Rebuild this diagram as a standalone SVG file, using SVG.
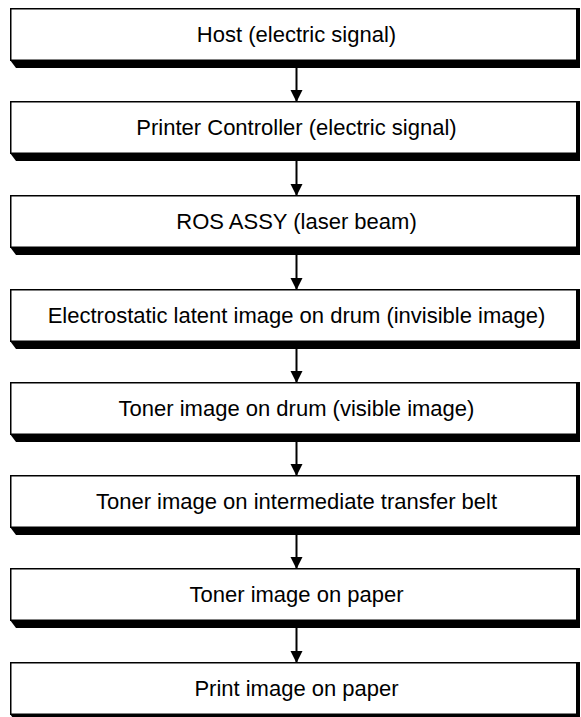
<svg xmlns="http://www.w3.org/2000/svg" width="581" height="717" viewBox="0 0 581 717">
<style>
.box{fill:#fff;stroke:#000;stroke-width:1.5}
.sh{fill:#000}
.t{font-family:"Liberation Sans",Arial,sans-serif;font-size:22px;fill:#000;text-anchor:middle}
.c{stroke:#000;stroke-width:2;fill:none}
</style>
<defs>
<marker id="ah" markerUnits="userSpaceOnUse" markerWidth="12" markerHeight="14" refX="11" refY="6" orient="auto">
<path d="M0,0 L12,6 L0,12 Z" fill="#000"/>
</marker>
<g id="shape">
<path class="sh" d="M10,52 L16,60 L580,60 L580,0 L576.5,0 L576.5,52 Z"/>
<rect class="box" x="10.75" y="0.75" width="566" height="51.5"/>
</g>
</defs>
<g id="connectors">
<line class="c" x1="296.5" y1="68" x2="296.5" y2="101" marker-end="url(#ah)"/>
<line class="c" x1="296.5" y1="161" x2="296.5" y2="195" marker-end="url(#ah)"/>
<line class="c" x1="296.5" y1="255" x2="296.5" y2="289" marker-end="url(#ah)"/>
<line class="c" x1="296.5" y1="349" x2="296.5" y2="382" marker-end="url(#ah)"/>
<line class="c" x1="296.5" y1="442" x2="296.5" y2="475" marker-end="url(#ah)"/>
<line class="c" x1="296.5" y1="535" x2="296.5" y2="568" marker-end="url(#ah)"/>
<line class="c" x1="296.5" y1="628" x2="296.5" y2="662" marker-end="url(#ah)"/>
</g>
<g id="n1" transform="translate(0,8)"><use href="#shape"/><text class="t" x="296.5" y="34">Host (electric signal)</text></g>
<g id="n2" transform="translate(0,101)"><use href="#shape"/><text class="t" x="296.5" y="34">Printer Controller (electric signal)</text></g>
<g id="n3" transform="translate(0,195)"><use href="#shape"/><text class="t" x="296.5" y="34">ROS ASSY (laser beam)</text></g>
<g id="n4" transform="translate(0,289)"><use href="#shape"/><text class="t" x="296.5" y="34">Electrostatic latent image on drum (invisible image)</text></g>
<g id="n5" transform="translate(0,382)"><use href="#shape"/><text class="t" x="296.5" y="34">Toner image on drum (visible image)</text></g>
<g id="n6" transform="translate(0,475)"><use href="#shape"/><text class="t" x="296.5" y="34">Toner image on intermediate transfer belt</text></g>
<g id="n7" transform="translate(0,568)"><use href="#shape"/><text class="t" x="296.5" y="34">Toner image on paper</text></g>
<g id="n8" transform="translate(0,662)"><use href="#shape"/><text class="t" x="296.5" y="34">Print image on paper</text></g>
</svg>
